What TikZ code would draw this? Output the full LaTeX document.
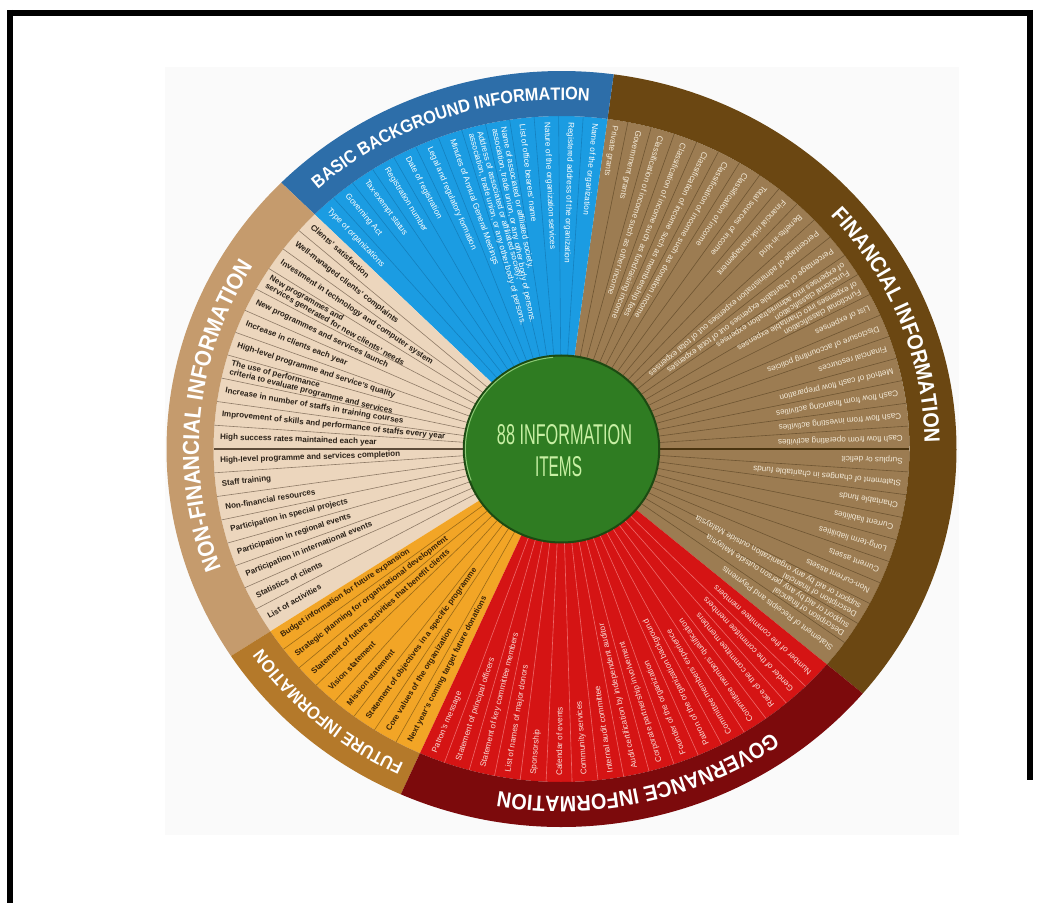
\documentclass[tikz,border=0pt]{standalone}
\usepackage{graphicx}
\usepackage{fontspec}
\setmainfont{Liberation Sans}
\newfontfamily\titlefont[FakeStretch=0.9]{Liberation Sans}
\usetikzlibrary{decorations.text}
\definecolor{finring}{HTML}{6B4712}
\definecolor{finitem}{HTML}{9C7C52}
\definecolor{finline}{HTML}{6E5532}
\definecolor{finaxis}{HTML}{4A3410}
\definecolor{fintext}{HTML}{F3EAD8}
\definecolor{basring}{HTML}{2D6EA9}
\definecolor{basitem}{HTML}{1B9CE2}
\definecolor{basline}{HTML}{1480BE}
\definecolor{nonring}{HTML}{C59B6D}
\definecolor{nonitem}{HTML}{ECD6BD}
\definecolor{nonline}{HTML}{8E7A66}
\definecolor{nonaxis}{HTML}{5E4C3A}
\definecolor{nontext}{HTML}{2A2118}
\definecolor{futring}{HTML}{B4792A}
\definecolor{futitem}{HTML}{F2A526}
\definecolor{futline}{HTML}{9A6A18}
\definecolor{futtext}{HTML}{3A2408}
\definecolor{govring}{HTML}{7C0A0C}
\definecolor{govitem}{HTML}{D51414}
\definecolor{govline}{HTML}{EE6A6A}
\definecolor{govtext}{HTML}{F8DCD6}
\definecolor{ctrgreen}{HTML}{2F7C22}
\definecolor{ctredge}{HTML}{1C4A12}
\definecolor{ctrlight}{HTML}{8CC874}
\definecolor{ctrtext}{HTML}{C8F0A4}
\definecolor{bgpanel}{HTML}{FAFAFA}
\newcommand\tfontS{\titlefont\bfseries\fontsize{18}{18}\selectfont}
\newcommand\tfontL{\titlefont\bfseries\fontsize{22}{22}\selectfont}
\newcommand\tfontX{\titlefont\bfseries\fontsize{23}{23}\selectfont}
\def\Rin{333}
\def\Rout{378}
\newcommand\wheelsector[4]{%
  \fill[#3] (0,0) -- (#1:\Rin) arc[start angle=#1,end angle=#2,radius=\Rin] -- cycle;
  \fill[#4] (#1:\Rout) arc[start angle=#1,end angle=#2,radius=\Rout] -- (#2:\Rin) arc[start angle=#2,end angle=#1,radius=\Rin] -- cycle;}
\begin{document}
\begin{tikzpicture}[x=1pt,y=1pt,
  lab/.style={inner sep=0pt, anchor=west, align=left, font=\fontsize{8.2}{8.8}\selectfont},
  labbold/.style={inner sep=0pt, anchor=west, align=left, font=\bfseries\fontsize{8}{8.6}\selectfont},
  spoke/.style={line width=0.6pt},
  ringtitle/.style={decorate}]
\useasboundingbox (0,0) rectangle (1039,903);
\fill[white] (0,0) rectangle (1039,903);
\fill[bgpanel] (165,68) rectangle (959,836);
\draw[line width=6pt] (7,890) -- (1033,890);
\draw[line width=6pt] (10,893) -- (10,0);
\draw[line width=6pt] (1030,893) -- (1030,123);
\begin{scope}[shift={(561.5,454)}, xscale=1.045]
  % sectors
  \wheelsector{-40.3}{82.4}{finitem}{finring}
  \wheelsector{82.4}{135.2}{basitem}{basring}
  \wheelsector{135.2}{213.2}{nonitem}{nonring}
  \wheelsector{213.2}{246.0}{futitem}{futring}
  \wheelsector{246.0}{319.7}{govitem}{govring}
  % spokes
  \foreach \i in {1,...,12} \draw[spoke, basline] (0,0) -- ({135.025-4.05*\i}:\Rin);
  \foreach \i in {1,...,30} \draw[spoke, finline] (0,0) -- ({82.95-3.95*\i}:\Rin);
  \foreach \i in {1,...,18} \draw[spoke, nonline] (0,0) -- ({134.9+4.1*\i}:\Rin);
  \foreach \i in {1,...,7} \draw[spoke, futline] (0,0) -- ({212.845+4.11*\i}:\Rin);
  \foreach \i in {1,...,16} \draw[spoke, govline] (0,0) -- ({246.06+4.28*\i}:\Rin);
  \draw[finaxis, line width=1.1pt] (0,0) -- (0:\Rin);
  \draw[nonaxis, line width=1.1pt] (0,0) -- (180:\Rin);
  % basic background labels
  \foreach \txt [count=\i from 0] in {{Type of organizations},{Governing Act},{Tax-exempt status},{Registration number},{Date of registration},{Legal and regulatory formation},{Minutes of Annual General Meetings},{Address of associated or affiliated society,\\association, trade union, or any other body of persons.},{Name of associated or affiliated society,\\association, trade union, or any other body of persons.},{List of office bearers' name},{Nature of the organization services},{Registered address of the organization},{Name of the organization}}{
    \pgfmathsetmacro\a{133-4.05*\i}
    \pgfmathsetmacro\rot{atan2(sin(\a),1.045*cos(\a))+180}
    \node[lab, text=white, rotate=\rot, name=bas\i] at (\a:327) {\txt};
  }
  % financial labels
  \foreach \txt [count=\i from 0] in {{Private grants},{Government grants},{Classification of income such as other income},{Classification of income such as fundraising income},{Classification of income such as membership fees},{Classification of income such as donation income},{Classification of income},{Total sources of income},{Financial risk management},{Benefits-in-kind},{Percentage of administration expenses out of total expenses},{Percentage of charitable expenses out of total expenses},{Functional classification\\of expenses into administration expenses},{Functional classification\\of expenses into charitable expenses},{List of expenses},{Disclosure of accounting policies},{Financial resources},{Method of cash flow preparation},{Cash flow from financing activities},{Cash flow from investing activities},{Cash flow from operating activities},{Surplus or deficit},{Statement of changes in charitable funds},{Charitable funds},{Current liabilities},{Long-term liabilities},{Current assets},{Non-current assets},{Description of financial\\support or aid by any organization outside Malaysia},{Description of financial\\support or aid by any person outside Malaysia},{Statement of Receipts and Payments}}{
    \pgfmathsetmacro\a{80.975-3.95*\i}
    \pgfmathsetmacro\rot{atan2(sin(\a),1.045*cos(\a))+180}
    \node[lab, text=fintext, rotate=\rot, name=fin\i] at (\a:327) {\txt};
  }
  % non-financial labels
  \foreach \txt [count=\i from 0] in {{Clients' satisfaction},{Well-managed clients' complaints},{Investment in technology and computer system},{New programmes and\\services generated for new clients' needs},{New programmes and services launch},{Increase in clients each year},{High-level programme and service's quality},{The use of performance\\criteria to evaluate programme and services},{Increase in number of staffs in training courses},{Improvement of skills and performance of staffs every year},{High success rates maintained each year},{High-level programme and services completion},{Staff training},{Non-financial resources},{Participation in special projects},{Participation in regional events},{Participation in international events},{Statistics of clients},{List of activities}}{
    \pgfmathsetmacro\a{136.95+4.1*\i}
    \pgfmathsetmacro\rot{atan2(sin(\a),1.045*cos(\a))+180}
    \node[labbold, text=nontext, rotate=\rot, name=non\i] at (\a:327) {\txt};
  }
  % future labels
  \foreach \txt [count=\i from 0] in {{Budget information for future expansion},{Strategic planning for organizational development},{Statement of future activities that benefit clients},{Vision statement},{Mission statement},{Statement of objectives in a specific programme},{Core values of the organization},{Next year's coming target future donations}}{
    \pgfmathsetmacro\a{214.9+4.11*\i}
    \pgfmathsetmacro\rot{atan2(sin(\a),1.045*cos(\a))+180}
    \node[labbold, text=futtext, rotate=\rot, name=fut\i] at (\a:327) {\txt};
  }
  % governance labels
  \foreach \txt [count=\i from 0] in {{Patron's message},{Statement of principal officers},{Statement of key committee members},{List of names of major donors},{Sponsorship},{Calendar of events},{Community services},{Internal audit committee},{Audit certification by independent auditor},{Corporate partnership involvement},{Founder of the organization},{Patron of the organization background},{Committee members' experience},{Committee members' qualification},{Race of the committee members},{Gender of the committee members},{Number of the committee members}}{
    \pgfmathsetmacro\a{248.2+4.28*\i}
    \pgfmathsetmacro\rot{atan2(sin(\a),1.045*cos(\a))+180}
    \node[lab, text=govtext, rotate=\rot, name=gov\i] at (\a:327) {\txt};
  }
  % ring titles
  \path[ringtitle, decoration={text along path, text align=center, text color=white, text={|\tfontS|BASIC BACKGROUND INFORMATION}}]
    (135.2:349) arc[start angle=135.2, end angle=82.4, radius=349];
  \path[ringtitle, decoration={text along path, text align=center, text color=white, text={|\tfontL|FINANCIAL INFORMATION}}]
    (82.4:347.5) arc[start angle=82.4, end angle=-40.3, radius=347.5];
  \path[ringtitle, decoration={text along path, text align=center, text color=white, text={|\tfontL|GOVERNANCE INFORMATION}}]
    (319.7:347.5) arc[start angle=319.7, end angle=246.0, radius=347.5];
  \path[ringtitle, decoration={text along path, text align=center, text color=white, text={|\tfontS|FUTURE INFORMATION}}]
    (246.0:349) arc[start angle=246.0, end angle=213.2, radius=349];
  \path[ringtitle, decoration={text along path, text align=center, text color=white, text={|\tfontX|NON-FINANCIAL INFORMATION}}]
    (213.2:347) arc[start angle=213.2, end angle=135.2, radius=347];
  % centre disc
  \fill[ctrgreen] (0,0) circle[radius=93.5];
  \draw[ctredge, line width=2pt] (0,0) circle[radius=93.5];
  \draw[ctrlight, line width=1pt] (95:92) arc[start angle=95, end angle=200, radius=92];
\end{scope}
\node[name=ctrA, inner sep=0pt, text=ctrtext] at (564.5,468) {\resizebox{135pt}{20pt}{88 INFORMATION}};
\node[name=ctrB, inner sep=0pt, text=ctrtext] at (558.5,436) {\resizebox{47pt}{20pt}{ITEMS}};
\end{tikzpicture}
\end{document}
